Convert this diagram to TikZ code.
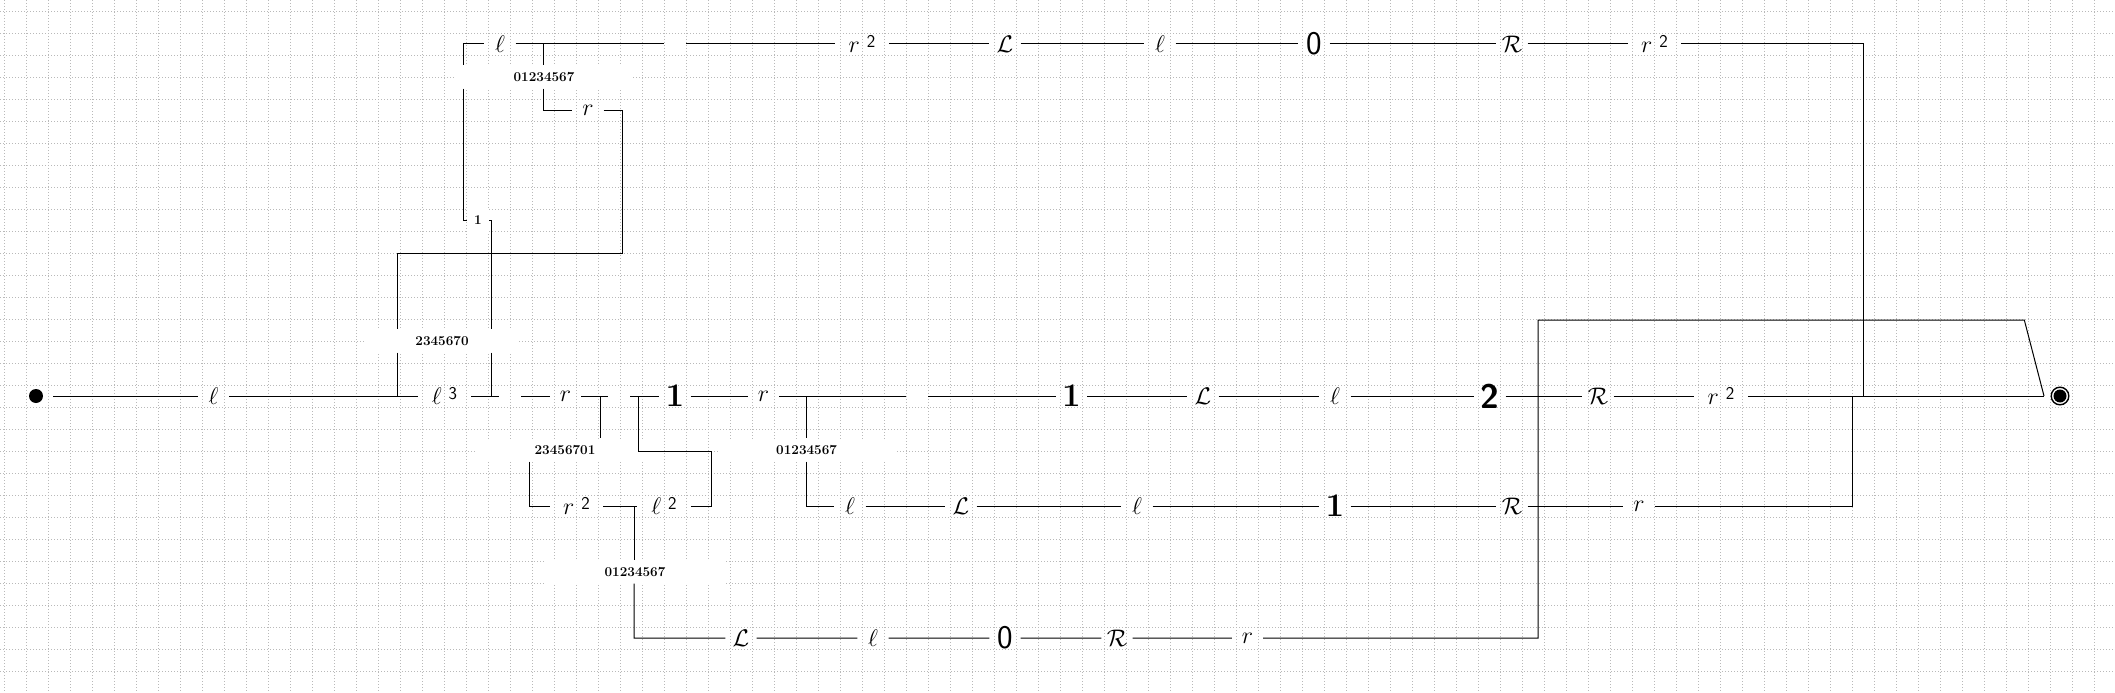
\RequirePackage{fix-cm}
\documentclass[tikz,border=0pt]{standalone}
\tikzset{
  wire/.style={line width=1pt},
  gridline/.style={gray!55, line width=0.7pt, dash pattern=on 1pt off 2pt},
  sym/.style={inner sep=0pt, minimum width=31pt, minimum height=22pt, font=\fontsize{24}{28}\selectfont},
  pow/.style={sym, minimum width=53.5pt},
  hole/.style={inner sep=0pt, minimum width=22.5pt, minimum height=22pt},
  digit/.style={sym, font=\bfseries\fontsize{33}{36}\selectfont},
  zero/.style={sym, font=\sffamily\fontsize{33}{36}\selectfont},
  numbox/.style={fill=white, inner sep=0pt, minimum width=#1, minimum height=23pt, font=\bfseries\fontsize{13.5}{16}\selectfont},
  startdot/.style={circle, fill, inner sep=0pt, minimum size=14pt, outer sep=10pt},
  enddot/.style={circle, fill, inner sep=0pt, minimum size=13pt, outer sep=9.5pt},
}
\newcommand{\powlab}[2]{$#1$\hspace{7pt}\raisebox{5pt}{\sffamily\fontsize{18}{20}\selectfont #2}}
\begin{document}
\begin{tikzpicture}[x=1pt,y=-1pt]
\useasboundingbox (0,0) rectangle (2115,693);
\foreach \gx in {0,...,95} \draw[gridline] ({4.3+22*\gx},0) -- ({4.3+22*\gx},693);
\foreach \gy in {0,...,31} \draw[gridline] (0,{11+22*\gy}) -- (2115,{11+22*\gy});

\node (start) [startdot] at (36,396) {};
\node (m1) [sym] at (213.5,396) {$\ell$};
\node (m2) [pow] at (444.5,396) {\powlab{\ell}{3}};
\node (m3) [hole] at (510,396) {};
\node (m4) [sym] at (565.4,396) {$r$};
\node (m5) [hole] at (619,396) {};
\node (m6) [digit] at (675,396) {1};
\node (m7) [sym] at (763.5,396) {$r$};
\node (m8) [hole] at (917,396) {};
\node (m9) [digit] at (1071.5,396) {1};
\node (m10) [sym] at (1203,396) {$\mathcal{L}$};
\node (m11) [sym] at (1335,396) {$\ell$};
\node (m12) [digit, font=\sffamily\bfseries\fontsize{34}{36}\selectfont] at (1490,396) {2};
\node (m13) [sym] at (1598,396) {$\mathcal{R}$};
\node (m14) [pow] at (1721,396) {\powlab{r}{2}};
\node (end) [enddot] at (2060,396) {};
\draw[line width=1.4pt] (end.center) circle (8.8pt);

\node (t1) [sym] at (500,44) {$\ell$};
\node (t2) [hole] at (675,44) {};
\node (t3) [pow] at (862,44) {\powlab{r}{2}};
\node (t4) [sym] at (1005,44) {$\mathcal{L}$};
\node (t5) [sym] at (1160,44) {$\ell$};
\node (t6) [zero] at (1314,44) {0};
\node (t7) [sym] at (1512,44) {$\mathcal{R}$};
\node (t8) [pow] at (1654.5,44) {\powlab{r}{2}};

\node (b1) [numbox=178pt] at (544,77) {01234567};
\node (tr1) [sym] at (588,110) {$r$};
\node (s1) [numbox=22.5pt] at (478,220) {1};
\node (b2) [numbox=154pt] at (442,341) {2345670};

\node (b3) [numbox=178pt] at (565,450) {23456701};
\node (n1) [pow] at (576.5,506) {\powlab{r}{2}};
\node (n2) [pow] at (664,506) {\powlab{\ell}{2}};
\node (b4) [numbox=178pt] at (635,572) {01234567};
\node (b5) [numbox=178pt] at (806.6,450) {01234567};

\node (q1) [sym] at (850,506) {$\ell$};
\node (q2) [sym] at (961,506) {$\mathcal{L}$};
\node (q3) [sym] at (1137,506) {$\ell$};
\node (q4) [digit] at (1335,506) {1};
\node (q5) [sym] at (1512,506) {$\mathcal{R}$};
\node (q6) [sym] at (1639,506) {$r$};

\node (p1) [sym] at (741,638) {$\mathcal{L}$};
\node (p2) [sym] at (873,638) {$\ell$};
\node (p3) [zero] at (1005,638) {0};
\node (p4) [sym] at (1117,638) {$\mathcal{R}$};
\node (p5) [sym] at (1247.5,638) {$r$};

\coordinate (tl) at (463,44);
\coordinate (tr) at (1863.7,44);
\coordinate (tj) at (543,44);
\coordinate (sj) at (491,220);
\coordinate (rr) at (622.7,253);
\coordinate (rl) at (397,253);
\coordinate (jr) at (600.7,396);
\coordinate (nl) at (529.5,506);
\coordinate (nj) at (634,506);
\coordinate (kr) at (711.6,451);
\coordinate (kl) at (638,451);
\coordinate (qj) at (806.6,396);
\coordinate (qe) at (1852,396);
\coordinate (bx) at (1538,320);
\coordinate (by) at (2024.3,320);

\draw[wire] (start) -- (m1) -- (m2) -- (m3) -- (m4) -- (m5) -- (m6) -- (m7) -- (m8) -- (m9) -- (m10) -- (m11) -- (m12) -- (m13) -- (m14) -- (end.west);
\draw[wire] (tl) -- (t1) -- (t2) -- (t3) -- (t4) -- (t5) -- (t6) -- (t7) -- (t8) -- (tr) -- (tr |- m14);
\draw[wire] (tl) -- (tl |- b1.north);
\draw[wire] (tl |- b1.south) -- (tl |- s1) -- (s1);
\draw[wire] (s1) -- (sj) -- (sj |- b2.north);
\draw[wire] (sj |- b2.south) -- (sj |- m2);
\draw[wire] (tj) -- (tj |- b1.north);
\draw[wire] (tj |- b1.south) -- (tj |- tr1) -- (tr1);
\draw[wire] (tr1) -- (tr1 -| rr) -- (rr) -- (rl) -- (rl |- b2.north);
\draw[wire] (rl |- b2.south) -- (rl |- m1);
\draw[wire] (jr) -- (jr |- b3.north);
\draw[wire] (nl |- b3.south) -- (nl) -- (n1) -- (n2) -- (n2 -| kr) -- (kr) -- (kl) -- (kl |- m6);
\draw[wire] (nj) -- (nj |- b4.north);
\draw[wire] (nj |- b4.south) -- (nj |- p1) -- (p1) -- (p2) -- (p3) -- (p4) -- (p5) -- (p5 -| bx) -- (bx) -- (by) -- (end.west);
\draw[wire] (qj) -- (qj |- b5.north);
\draw[wire] (qj |- b5.south) -- (qj |- q1) -- (q1) -- (q2) -- (q3) -- (q4) -- (q5) -- (q6) -- (q6 -| qe) -- (qe);
\end{tikzpicture}
\end{document}
